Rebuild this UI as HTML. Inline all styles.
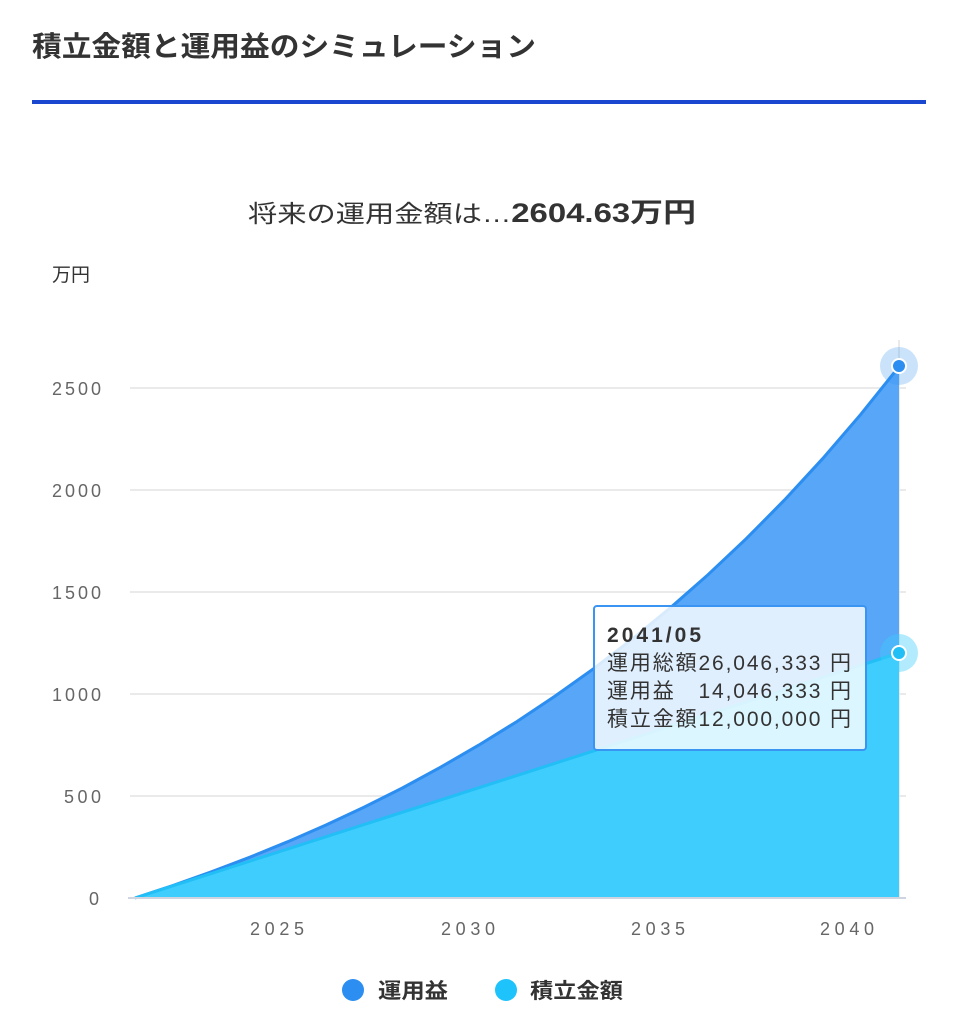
<!DOCTYPE html>
<html><head><meta charset="utf-8"><style>
body{margin:0;background:#fff;width:957px;height:1024px;overflow:hidden;font-family:"Liberation Sans","Noto Sans CJK JP",sans-serif;}
</style></head><body>
<svg width="957" height="1024" xmlns="http://www.w3.org/2000/svg" style="position:absolute;left:0;top:0">
<text x="32" y="56" font-size="28" font-weight="bold" fill="#333" textLength="504" lengthAdjust="spacingAndGlyphs" font-family="Liberation Sans,Noto Sans CJK JP,sans-serif">積立金額と運用益のシミュレーション</text>
<rect x="32" y="100" width="894" height="4" fill="#1a47d0"/>
<text x="248" y="222" font-size="24" fill="#333" textLength="448" lengthAdjust="spacingAndGlyphs" font-family="Liberation Sans,Noto Sans CJK JP,sans-serif">将来の運用金額は…<tspan font-weight="bold" font-size="27">2604.63万円</tspan></text>
<text x="52" y="281" font-size="19" fill="#333" font-family="Liberation Sans,Noto Sans CJK JP,sans-serif">万円</text>
<g stroke="#e4e4e4" stroke-width="1.5">
<line x1="130" y1="388" x2="906" y2="388"/><line x1="130" y1="490" x2="906" y2="490"/><line x1="130" y1="592" x2="906" y2="592"/><line x1="130" y1="694" x2="906" y2="694"/><line x1="130" y1="796" x2="906" y2="796"/>
<line x1="899" y1="340" x2="899" y2="898"/>
</g>
<g font-size="18" fill="#666" font-family="Liberation Sans,sans-serif" lengthAdjust="spacingAndGlyphs">
<text x="52" y="395" textLength="49">2500</text><text x="52" y="497" textLength="49">2000</text><text x="52" y="599" textLength="49">1500</text><text x="52" y="701" textLength="49">1000</text><text x="64" y="803" textLength="37">500</text><text x="89" y="905" textLength="12">0</text>
</g>
<path d="M135,898 L173.2,885.4 211.4,871.8 249.6,857.3 287.8,841.7 326,825 364.2,807.1 402.4,788 440.6,767.2 478.8,745.1 517,721.5 555.2,696 593.4,668.8 631.6,639.6 669.8,608.3 708,574.7 746.2,538.7 784.4,500.1 822.6,458.7 860.8,414.3 899,366.7 L899,898 Z" fill="#57a6f7" stroke="none"/>
<path d="M135,898 L173.2,885.4 211.4,871.8 249.6,857.3 287.8,841.7 326,825 364.2,807.1 402.4,788 440.6,767.2 478.8,745.1 517,721.5 555.2,696 593.4,668.8 631.6,639.6 669.8,608.3 708,574.7 746.2,538.7 784.4,500.1 822.6,458.7 860.8,414.3 899,366.7" fill="none" stroke="#2b8ef0" stroke-width="3"/>
<path d="M135,898 L899,653 L899,898 Z" fill="#3fcdfd"/>
<line x1="135" y1="898" x2="899" y2="653" stroke="#22bff6" stroke-width="3"/>
<line x1="128" y1="898" x2="906" y2="898" stroke="#cfd4e0" stroke-width="2"/>
<g font-size="18" fill="#666" font-family="Liberation Sans,sans-serif" lengthAdjust="spacingAndGlyphs">
<text x="250" y="935" textLength="54">2025</text><text x="441" y="935" textLength="54">2030</text><text x="631" y="935" textLength="54">2035</text><text x="820" y="935" textLength="54">2040</text>
</g>
<circle cx="899" cy="366" r="19" fill="#2b8ef0" opacity="0.25"/>
<circle cx="899" cy="366" r="7" fill="#2b8ef0" stroke="#fff" stroke-width="2"/>
<circle cx="899" cy="653" r="19" fill="#3fcdfd" opacity="0.4"/>
<circle cx="899" cy="653" r="7" fill="#22bff6" stroke="#fff" stroke-width="2"/>
<rect x="594" y="606" width="272" height="144" rx="3" fill="#fff" fill-opacity="0.82" stroke="#3a95f2" stroke-width="2"/>
<g font-size="21" fill="#333" font-family="Liberation Sans,Noto Sans CJK JP,sans-serif" lengthAdjust="spacingAndGlyphs">
<text x="607" y="642" font-weight="bold" textLength="94">2041/05</text>
<text x="607" y="670" textLength="244">運用総額26,046,333 円</text>
<text x="607" y="698" textLength="244">運用益　14,046,333 円</text>
<text x="607" y="726" textLength="244">積立金額12,000,000 円</text>
</g>
<circle cx="353" cy="990" r="11" fill="#2b8ef0"/>
<text x="378" y="998" font-size="21" font-weight="bold" fill="#333" textLength="70" lengthAdjust="spacingAndGlyphs" font-family="Liberation Sans,Noto Sans CJK JP,sans-serif">運用益</text>
<circle cx="506" cy="990" r="11" fill="#1ec3fb"/>
<text x="530" y="998" font-size="21" font-weight="bold" fill="#333" textLength="93" lengthAdjust="spacingAndGlyphs" font-family="Liberation Sans,Noto Sans CJK JP,sans-serif">積立金額</text>
</svg>
</body></html>
